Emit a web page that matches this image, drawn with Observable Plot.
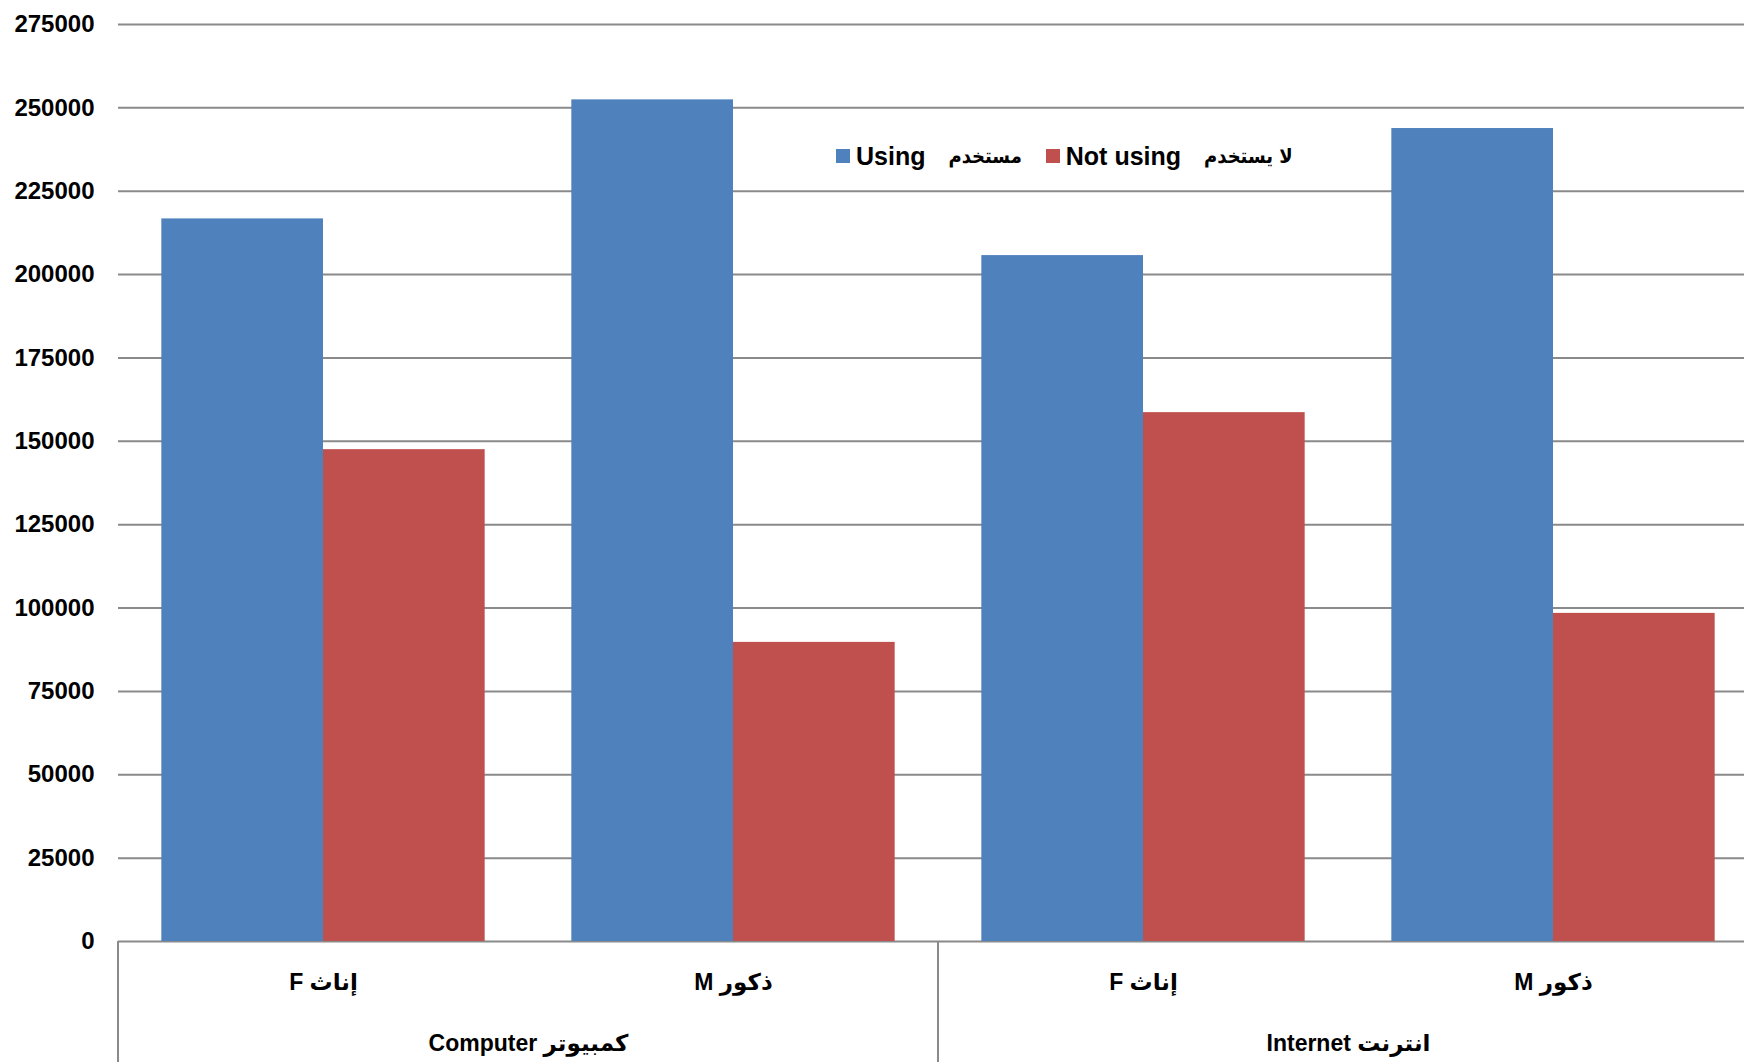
<!DOCTYPE html>
<html>
<head>
<meta charset="utf-8">
<script src="https://cdn.jsdelivr.net/npm/d3@7"></script>
<script src="https://cdn.jsdelivr.net/npm/@observablehq/plot@0.6"></script>
<style>
  html, body { margin: 0; padding: 0; background: #fff; overflow: hidden; }
  #wrap { position: relative; width: 1744px; height: 1062px; overflow: hidden; }
  #chart svg { max-width: none !important; }
  #legend { position: absolute; left: 836px; top: 141px; height: 30px; display: flex; align-items: center;
    font-family: "Liberation Sans", Arial, "DejaVu Sans", sans-serif; font-weight: bold; font-size: 25px; color: #000; white-space: nowrap; }
  #legend .sw { width: 14px; height: 14px; display: inline-block; margin-right: 6px; }
  #legend .en { margin-right: 23px; }
  #legend .ar { margin-right: 24px; font-size: 20px; font-family: "DejaVu Sans Condensed", "DejaVu Sans", sans-serif; }
</style>
</head>
<body>
<div id="wrap">
  <div id="chart"></div>
  <div id="legend"></div>
</div>
<script>
// Data
const groups = ["Computer كمبيوتر", "Internet انترنت"];
const genders = ["F إناث", "M ذكور"];
const series = ["Using", "Not using"];
const seriesArabic = ["مستخدم", "لا يستخدم"];
const seriesColors = ["#4F81BD", "#C0504D"];
const usingValues = [216700, 252400, 205700, 243800];      // Computer F, Computer M, Internet F, Internet M
const notUsingValues = [147500, 89700, 158600, 98400];
const yTicks = [0, 25000, 50000, 75000, 100000, 125000, 150000, 175000, 200000, 225000, 250000, 275000];

const data = [];
const cats = [];
groups.forEach((g, gi) => genders.forEach((s, si) => {
  const k = gi * 2 + si;
  const cat = g + "|" + s;
  cats.push(cat);
  data.push({cat, group: g, gender: s, series: series[0], value: usingValues[k]});
  data.push({cat, group: g, gender: s, series: series[1], value: notUsingValues[k]});
}));
const groupLabels = groups.map(g => ({cat: g + "|" + genders[0], label: g}));

const gridColor = "#8a8a8a";

const plot = Plot.plot({
  width: 1758,
  height: 1062,
  marginLeft: 118,
  marginRight: 0,
  marginTop: 24,
  marginBottom: 121,
  style: {fontFamily: '"Liberation Sans", Arial, "DejaVu Sans", sans-serif', fontWeight: "bold", color: "#000", background: "#fff", overflow: "visible", maxWidth: "none"},
  fx: {domain: cats, paddingInner: 0, paddingOuter: 0, round: false, label: null, axis: null},
  x: {domain: series, paddingInner: 0, paddingOuter: 0.268, round: false, axis: null},
  y: {domain: [0, 275000], label: null},
  color: {domain: series, range: seriesColors},
  marks: [
    Plot.gridY(yTicks, {stroke: gridColor, strokeOpacity: 1, strokeWidth: 2}),
    Plot.barY(data, {fx: "cat", x: "series", y: "value", fill: "series"}),
    Plot.axisY(yTicks, {tickSize: 0, tickPadding: 24, fontSize: 24, fontWeight: "bold", tickFormat: d => String(d), label: null}),
    Plot.axisFx({anchor: "bottom", tickSize: 0, tickPadding: 32, fontSize: 23, fontWeight: "bold", tickFormat: k => k.split("|")[1], label: null}),
    Plot.text(groupLabels, {fx: "cat", text: "label", frameAnchor: "bottom-right", textAnchor: "middle", lineAnchor: "top", dy: 93, fontSize: 23, fontWeight: "bold"})
  ]
});
document.getElementById("chart").appendChild(plot);

// separator lines below the baseline, derived from the facet scale
const fxs = plot.scale("fx");
const ys = plot.scale("y");
const y0 = ys.apply(0);
const sepX = [fxs.apply(cats[0]), fxs.apply(cats[2]), fxs.apply(cats[3]) + fxs.bandwidth];
d3.select(plot).append("g").selectAll("line").data(sepX).join("line")
  .attr("x1", d => d).attr("x2", d => d)
  .attr("y1", y0).attr("y2", 1062)
  .attr("stroke", gridColor).attr("stroke-width", 2);

// legend
const legend = d3.select("#legend");
series.forEach((s, i) => {
  legend.append("span").attr("class", "sw").style("background", seriesColors[i]);
  legend.append("span").attr("class", "en").text(s);
  legend.append("span").attr("class", "ar").attr("dir", "rtl").text(seriesArabic[i]);
});
</script>
</body>
</html>
